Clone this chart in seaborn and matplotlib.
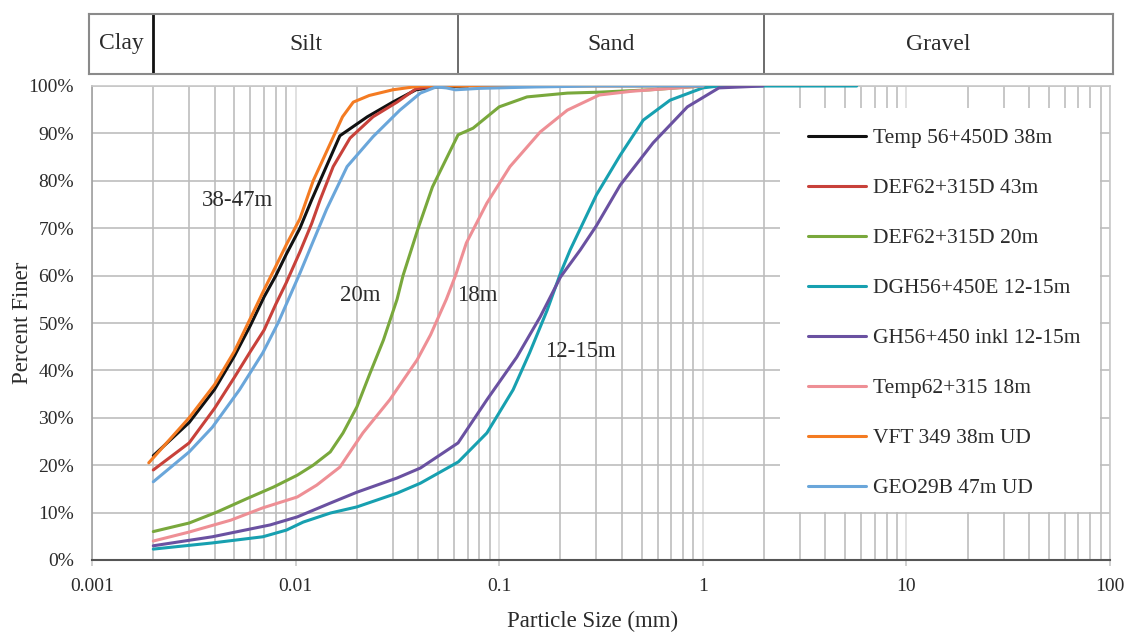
import numpy as np
import pandas as pd
import matplotlib
matplotlib.use("Agg")
import matplotlib.pyplot as plt
import matplotlib.ticker as mticker
from matplotlib.patches import Rectangle
import seaborn as sns

# ---------------- data ----------------
series_names = ["Temp 56+450D 38m", "DEF62+315D 43m", "DEF62+315D 20m",
                "DGH56+450E 12-15m", "GH56+450 inkl 12-15m", "Temp62+315 18m",
                "VFT 349 38m UD", "GEO29B 47m UD"]
series_colors = ["#111111", "#c8413a", "#79a83c", "#17a0b0",
                 "#6a51a1", "#ee8f95", "#f47b22", "#6aa6da"]

black_x = [0.002, 0.003, 0.004, 0.005, 0.006, 0.007, 0.008, 0.009, 0.0105, 0.012, 0.0135, 0.0165, 0.0225, 0.03, 0.039, 0.049, 0.07]
black_y = [22, 29, 36, 43, 49.5, 55.5, 60, 64.5, 70, 76, 81, 89.5, 93.5, 96.6, 99.2, 99.8, 100]

red_x = [0.002, 0.003, 0.004, 0.005, 0.006, 0.007, 0.008, 0.009, 0.0105, 0.012, 0.0132, 0.0153, 0.0185, 0.024, 0.0315, 0.039, 0.05]
red_y = [19, 24.7, 32, 38.5, 44, 48.5, 54, 58.5, 65, 71, 76, 83, 89, 93.5, 96.6, 99.4, 100]

green_x = [0.002, 0.003, 0.0041, 0.0058, 0.0078, 0.0102, 0.0122, 0.0148, 0.0171, 0.02, 0.0232, 0.027, 0.0315, 0.0337, 0.04, 0.047, 0.0628, 0.0744, 0.1, 0.137, 0.216, 0.31, 0.55, 1.0]
green_y = [6, 7.8, 10.1, 13, 15.4, 17.9, 20, 22.8, 26.8, 32.3, 39.4, 46.4, 55, 60, 70, 78.7, 89.7, 91.1, 95.6, 97.7, 98.5, 98.7, 99.2, 100]

teal_x = [0.002, 0.0039, 0.0069, 0.009, 0.0109, 0.0148, 0.02, 0.0315, 0.041, 0.063, 0.087, 0.117, 0.141, 0.172, 0.2, 0.223, 0.3, 0.393, 0.51, 0.69, 1.0, 1.2, 5.7]
teal_y = [2.3, 3.6, 4.9, 6.3, 8, 9.9, 11.2, 14.1, 16.2, 20.7, 26.8, 35.9, 43.7, 52.7, 60.5, 65.4, 77, 85.4, 92.8, 97, 99.6, 100, 100]

purple_x = [0.002, 0.0039, 0.0075, 0.0102, 0.0148, 0.02, 0.0315, 0.041, 0.0628, 0.087, 0.122, 0.159, 0.2, 0.25, 0.3, 0.393, 0.57, 0.84, 1.2, 1.97]
purple_y = [3, 4.9, 7.4, 9.1, 12, 14.3, 17.3, 19.4, 24.7, 33.8, 42.8, 51.3, 59.7, 65.4, 70.5, 79.1, 88, 95.6, 99.6, 100]

pink_x = [0.002, 0.003, 0.0048, 0.0069, 0.0102, 0.0127, 0.0165, 0.0214, 0.029, 0.0395, 0.046, 0.05, 0.055, 0.061, 0.069, 0.087, 0.113, 0.159, 0.216, 0.31, 0.45, 1.0]
pink_y = [4, 5.9, 8.4, 11, 13.3, 15.8, 19.6, 26.8, 33.8, 42.2, 47.5, 51, 55, 60, 66.9, 75.3, 83, 90.3, 94.9, 98.1, 98.9, 100]

orange_x = [0.0019, 0.003, 0.004, 0.005, 0.006, 0.007, 0.008, 0.009, 0.0105, 0.0122, 0.0156, 0.017, 0.0192, 0.023, 0.03, 0.041, 1.0]
orange_y = [20.5, 30, 37, 44, 51, 57, 62, 66.5, 72, 80, 90, 93.5, 96.6, 98, 99.2, 100, 100]

blue_x = [0.002, 0.003, 0.0039, 0.0053, 0.0069, 0.0082, 0.0105, 0.012, 0.0142, 0.0179, 0.024, 0.0325, 0.041, 0.049, 0.055, 0.061, 0.08, 0.15, 0.3, 1.0]
blue_y = [16.5, 22.8, 28, 35.9, 43.7, 50, 60.5, 66.5, 74, 83, 89.3, 94.9, 98.5, 99.8, 99.6, 99.2, 99.5, 99.8, 100, 100]

series_x = [black_x, red_x, green_x, teal_x, purple_x, pink_x, orange_x, blue_x]
series_y = [black_y, red_y, green_y, teal_y, purple_y, pink_y, orange_y, blue_y]

band_bounds = [0.002, 0.063, 2.0]
band_names = ["Clay", "Silt", "Sand", "Gravel"]

x_ticks = [0.001, 0.01, 0.1, 1, 10, 100]
x_tick_labels = ["0.001", "0.01", "0.1", "1", "10", "100"]
y_ticks = list(range(0, 101, 10))
y_tick_labels = [f"{v}%" for v in y_ticks]

annotations = [("38-47m", 0.00516, 75.9), ("20m", 0.0207, 55.7),
               ("18m", 0.078, 55.7), ("12-15m", 0.25, 43.9)]

# ---------------- style ----------------
sns.set_theme(style="white")
plt.rcParams["font.family"] = ["Liberation Serif", "DejaVu Serif"]
TXT = "#2b2b2b"

W, H = 1136, 635
fig = plt.figure(figsize=(W / 100, H / 100), dpi=100)
fig.patch.set_facecolor("white")

# main axes
ax = fig.add_axes([92 / W, 1 - 560 / H, 1018 / W, 474 / H])
ax.set_xscale("log")
ax.set_xlim(0.001, 100)
ax.set_ylim(0, 100)
ax.set_axisbelow(True)

ax.xaxis.set_major_locator(mticker.FixedLocator(x_ticks))
ax.xaxis.set_major_formatter(mticker.FixedFormatter(x_tick_labels))
ax.xaxis.set_minor_locator(mticker.LogLocator(base=10, subs=np.arange(2, 10)))
ax.xaxis.set_minor_formatter(mticker.NullFormatter())
ax.set_yticks(y_ticks)
ax.set_yticklabels(y_tick_labels)

ax.grid(which="minor", axis="x", color="#bdbdbd", lw=1.2)
ax.grid(which="major", axis="x", color="#dcdcdc", lw=1.2)
ax.grid(which="major", axis="y", color="#bdbdbd", lw=1.2)

ax.tick_params(axis="x", which="major", length=4, color="#c8c8c8", width=1.2,
               pad=9, labelsize=14, labelcolor=TXT, bottom=True)
ax.tick_params(axis="x", which="minor", length=0)
ax.tick_params(axis="y", length=0, pad=13, labelsize=14, labelcolor=TXT)

for s in ["top", "right"]:
    ax.spines[s].set_color("#c8c8c8")
    ax.spines[s].set_linewidth(1.2)
ax.spines["left"].set_color("#a0a0a0")
ax.spines["left"].set_linewidth(1.2)
ax.spines["bottom"].set_color("#555555")
ax.spines["bottom"].set_linewidth(1.5)

# legend background box
ax.add_patch(Rectangle((0.676, 0.101), 0.314, 0.853, transform=ax.transAxes,
                       facecolor="white", edgecolor="none", zorder=1))

for name, col, xs, ys in zip(series_names, series_colors, series_x, series_y):
    df = pd.DataFrame({"size": xs, "finer": ys})
    sns.lineplot(data=df, x="size", y="finer", ax=ax, color=col, lw=2.2,
                 sort=False, estimator=None, label=name, zorder=3)

for txt, xx, yy in annotations:
    ax.text(xx, yy, txt, ha="center", va="center", fontsize=16.5, color=TXT, zorder=4)

ax.set_xlabel("Particle Size (mm)", fontsize=16.5, color=TXT)
ax.xaxis.set_label_coords((593 - 92) / 1018, -(611 - 560) / 474)
ax.set_ylabel("Percent Finer", fontsize=16.5, color=TXT)
ax.yaxis.set_label_coords(-(92 - 33) / 1018, 0.5)

leg = ax.legend(loc="upper left", bbox_to_anchor=(0.703, 0.911), frameon=False,
                fontsize=15.5, handlelength=2.7, handletextpad=0.33,
                labelspacing=1.39, borderpad=0, borderaxespad=0)
for t in leg.get_texts():
    t.set_color(TXT)
leg.set_zorder(5)

# classification band
pad_dec = 3 / 203.5
bax = fig.add_axes([89 / W, 1 - 74 / H, 1024 / W, 60 / H])
bax.set_xscale("log")
bax.set_xlim(10 ** (-3 - pad_dec), 10 ** (2 + pad_dec))
bax.set_ylim(0, 1)
bax.set_xticks([])
bax.set_yticks([])
bax.minorticks_off()
bax.tick_params(which="both", length=0, labelbottom=False, labelleft=False)
bax.set_facecolor("white")
for s in bax.spines.values():
    s.set_color("#8a8a8a")
    s.set_linewidth(1.5)
for i, b in enumerate(band_bounds):
    bax.axvline(b, color="#111111" if i == 0 else "#606060", lw=2.0 if i == 0 else 1.3)
edges = [bax.get_xlim()[0]] + band_bounds + [bax.get_xlim()[1]]
for i, nm in enumerate(band_names):
    cx = np.sqrt(edges[i] * edges[i + 1])
    bax.text(cx, 0.5, nm, ha="center", va="center", fontsize=17, color=TXT)

fig.savefig("out.png", dpi=100, facecolor="white")
